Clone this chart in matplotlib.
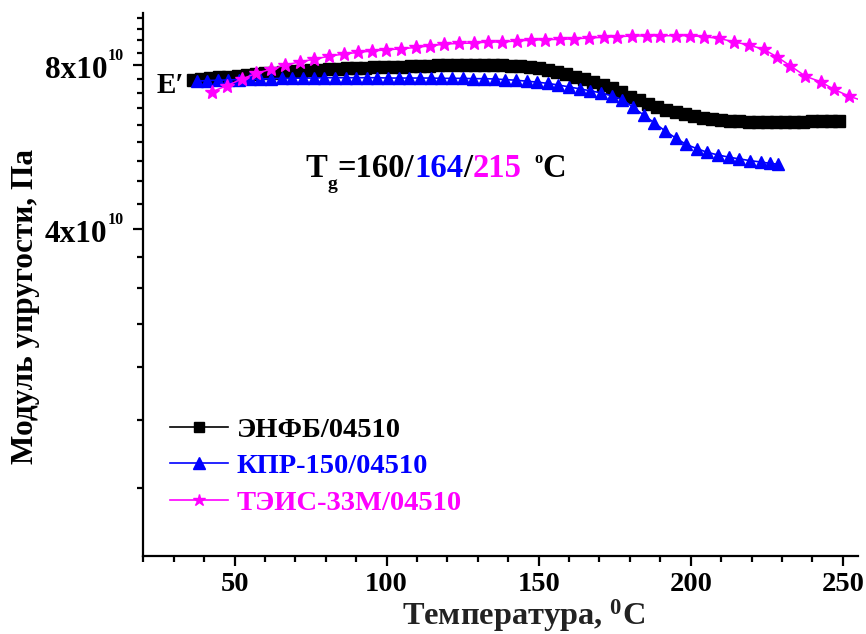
import numpy as np
import matplotlib
matplotlib.use("Agg")
import matplotlib.pyplot as plt
from matplotlib.ticker import FixedLocator, NullFormatter, MultipleLocator
from matplotlib.lines import Line2D
from matplotlib.transforms import blended_transform_factory, offset_copy

# ---- data: storage modulus E' (units of 1e10 Pa) vs temperature (deg C) ----
t_enfb = [36.5, 39, 42, 45, 48, 51, 54, 57, 60, 63, 66, 69, 72, 75, 78, 81, 84, 87,
          90, 93, 96, 99, 102, 105, 108, 111, 114, 117, 120, 123, 126, 129, 132, 135,
          138, 141, 144, 147, 150, 153, 156, 159, 162, 165, 168, 171, 174, 177, 180,
          183, 186, 189, 192, 195, 198, 201, 204, 207, 210, 213, 216, 219, 222, 225,
          228, 231, 234, 237, 240, 243, 246, 248.6]
e_enfb = [7.52, 7.55, 7.57, 7.60, 7.62, 7.65, 7.68, 7.70, 7.73, 7.75, 7.78, 7.80, 7.82,
          7.83, 7.85, 7.87, 7.88, 7.90, 7.91, 7.92, 7.93, 7.94, 7.95, 7.96, 7.97, 7.98,
          7.99, 8.00, 8.01, 8.01, 8.02, 8.02, 8.02, 8.02, 8.01, 7.99, 7.97, 7.94, 7.90,
          7.85, 7.79, 7.71, 7.62, 7.54, 7.46, 7.37, 7.26, 7.13, 7.00, 6.90, 6.80, 6.71,
          6.63, 6.56, 6.50, 6.45, 6.41, 6.37, 6.34, 6.32, 6.31, 6.30, 6.29, 6.28, 6.28,
          6.28, 6.29, 6.30, 6.31, 6.31, 6.32, 6.32]

t_kpr = [37.7, 41, 44.5, 48, 51.5, 55, 58.5, 62, 65.5, 69, 72.5, 76, 79.5, 83, 86.5,
         90, 93.5, 97, 100.5, 104, 107.5, 111, 114.5, 118, 121.5, 125, 128.5, 132,
         135.5, 139, 142.5, 146, 149.5, 153, 156.5, 160, 163.5, 167, 170.5, 174,
         177.5, 181, 184.5, 188, 191.5, 195, 198.5, 202, 205.5, 209, 212.5, 216,
         219.5, 223, 226, 228.6]
e_kpr = [7.48, 7.50, 7.51, 7.52, 7.53, 7.54, 7.55, 7.56, 7.57, 7.57, 7.58, 7.58, 7.59,
         7.59, 7.59, 7.59, 7.59, 7.59, 7.58, 7.58, 7.58, 7.58, 7.58, 7.57, 7.57, 7.57,
         7.56, 7.56, 7.55, 7.53, 7.51, 7.48, 7.45, 7.41, 7.36, 7.30, 7.24, 7.18, 7.12,
         7.03, 6.92, 6.70, 6.48, 6.27, 6.06, 5.88, 5.72, 5.62, 5.53, 5.47, 5.42, 5.38,
         5.34, 5.31, 5.28, 5.26]

t_teis = [42.6, 47.5, 52.4, 57.1, 62.0, 66.7, 71.6, 76.2, 81.2, 85.9, 90.6, 95.2, 99.8,
          104.7, 109.7, 114.4, 119.0, 123.7, 128.6, 133.2, 138.0, 142.9, 147.6, 152.2,
          157.1, 161.5, 166.4, 171.4, 175.8, 180.7, 185.7, 190.0, 195.0, 199.9, 204.3,
          209.2, 214.1, 219.1, 224.0, 228.4, 232.8, 237.7, 242.7, 247.0, 252.0, 256.7]
e_teis = [7.15, 7.34, 7.55, 7.73, 7.87, 8.01, 8.12, 8.21, 8.32, 8.39, 8.45, 8.50, 8.54,
          8.58, 8.63, 8.69, 8.75, 8.78, 8.79, 8.83, 8.83, 8.87, 8.90, 8.92, 8.93, 8.95,
          8.98, 9.01, 9.03, 9.06, 9.06, 9.07, 9.07, 9.07, 9.03, 8.97, 8.84, 8.72, 8.56,
          8.29, 7.98, 7.64, 7.46, 7.23, 7.02, 6.88]

series_labels = ["ЭНФБ/04510", "КПР-150/04510", "ТЭИС-33М/04510"]
series_colors = ["#000000", "#0000ff", "#ff00ff"]
tg_values = ["160", "164", "215"]
y_major = [4e10, 8e10]
y_major_mantissa = ["4", "8"]

# ---- style ----
plt.rcParams["font.family"] = ["Liberation Serif", "DejaVu Serif"]
plt.rcParams["font.weight"] = "bold"
plt.rcParams["mathtext.fontset"] = "custom"
plt.rcParams["mathtext.rm"] = "Liberation Serif:bold"
plt.rcParams["mathtext.bf"] = "Liberation Serif:bold"
plt.rcParams["mathtext.it"] = "Liberation Serif:bold"

W, H = 866, 634
fig = plt.figure(figsize=(W / 100, H / 100), dpi=100)
renderer = fig.canvas.get_renderer()


def fx(x):
    return x / W


def fy(y):
    return 1 - y / H


ax = fig.add_axes([fx(143.3), fy(555.7), fx(858) - fx(143.3), fy(12.7) - fy(555.7)])

scale = 1e10
ax.plot(t_enfb, np.array(e_enfb) * scale, color=series_colors[0], lw=1.2,
        marker="s", ms=8, mec=series_colors[0], mfc=series_colors[0])
ax.plot(t_kpr, np.array(e_kpr) * scale, color=series_colors[1], lw=1.2,
        marker="^", ms=8, mec=series_colors[1], mfc=series_colors[1])
ax.plot(t_teis, np.array(e_teis) * scale, color=series_colors[2], lw=1.1,
        marker="*", ms=10, mec=series_colors[2], mfc=series_colors[2],
        markevery=slice(0, len(t_teis) - 1))

ax.set_yscale("log")
ax.set_xlim(20, 255)
ax.set_ylim(1e10, 1e11)

ax.xaxis.set_major_locator(MultipleLocator(50))
ax.xaxis.set_minor_locator(MultipleLocator(10))

step = 4e10 / 9
ax.yaxis.set_major_locator(FixedLocator(y_major))
ax.yaxis.set_minor_locator(FixedLocator([k * step for k in range(3, 23) if k not in (9, 18)]))
ax.yaxis.set_minor_formatter(NullFormatter())
ax.set_yticklabels(["" for _ in y_major])

for side in ("top", "right"):
    ax.spines[side].set_visible(False)
for side in ("left", "bottom"):
    ax.spines[side].set_linewidth(1.6)

ax.tick_params(which="major", direction="out", length=7.5, width=1.6, labelsize=20.5, pad=4.5)
ax.tick_params(which="minor", direction="out", length=4, width=1.6)
for lab in ax.get_xticklabels():
    lab.set_fontweight("bold")

# y tick labels "Nx10^10" with a small raised exponent
ylab_tr = blended_transform_factory(fig.transFigure, ax.transData)
for val, mant in zip(y_major, y_major_mantissa):
    base_tr = offset_copy(ylab_tr, fig=fig, y=-13 * 0.72, units="points")
    sup_tr = offset_copy(ylab_tr, fig=fig, y=5 * 0.72, units="points")
    fig.text(fx(107.5), val, mant + "x10", transform=base_tr, fontsize=22.5,
             fontweight="bold", ha="right", va="baseline")
    fig.text(fx(107.5), val, "10", transform=sup_tr, fontsize=11.5,
             fontweight="bold", ha="left", va="baseline")

# axis titles
fig.text(fx(523), fy(625), r"Температура, $^{\mathbf{0}}$C", fontsize=23.3,
         fontweight="bold", ha="center", va="baseline", color="#222222")
fig.text(fx(33.3), fy(306), "Модуль упругости, Па", fontsize=22.5, fontweight="bold",
         rotation=90, rotation_mode="anchor", ha="center", va="baseline")

# E' marker
fig.text(fx(157), fy(93.3), "E′", fontsize=21, fontweight="bold", ha="left", va="baseline")


def put(x_px, y_px, s, size, color="#000000"):
    t = fig.text(fx(x_px), fy(y_px), s, fontsize=size, fontweight="bold",
                 ha="left", va="baseline", color=color)
    return t.get_window_extent(renderer).x1


# glass transition temperatures
base = 176.7
fs = 23.5
put(305, base, "T", fs)
put(327, 189.5, "g", 14)
x = put(337.5, base, "=" + tg_values[0] + "/", fs, series_colors[0])
x = put(x, base, tg_values[1], fs, series_colors[1])
x = put(x, base, "/", fs, series_colors[0])
x = put(x, base, tg_values[2], fs, series_colors[2])
put(x + 13, 163.5, "o", 12)
put(x + 21, base, "C", fs)

# legend
handles = [
    Line2D([], [], color=series_colors[0], lw=1.2, marker="s", ms=7),
    Line2D([], [], color=series_colors[1], lw=1.2, marker="^", ms=8),
    Line2D([], [], color=series_colors[2], lw=1.2, marker="*", ms=9),
]
leg = ax.legend(handles, series_labels, loc="upper left", bbox_to_anchor=(0.0374, 0.256),
                frameon=False, fontsize=20.5, handlelength=2.05, handletextpad=0.3,
                labelspacing=0.38, borderaxespad=0, borderpad=0, numpoints=1)
for txt, c in zip(leg.get_texts(), series_colors):
    txt.set_color(c)
    txt.set_fontweight("bold")

fig.savefig("out.png", dpi=100)
